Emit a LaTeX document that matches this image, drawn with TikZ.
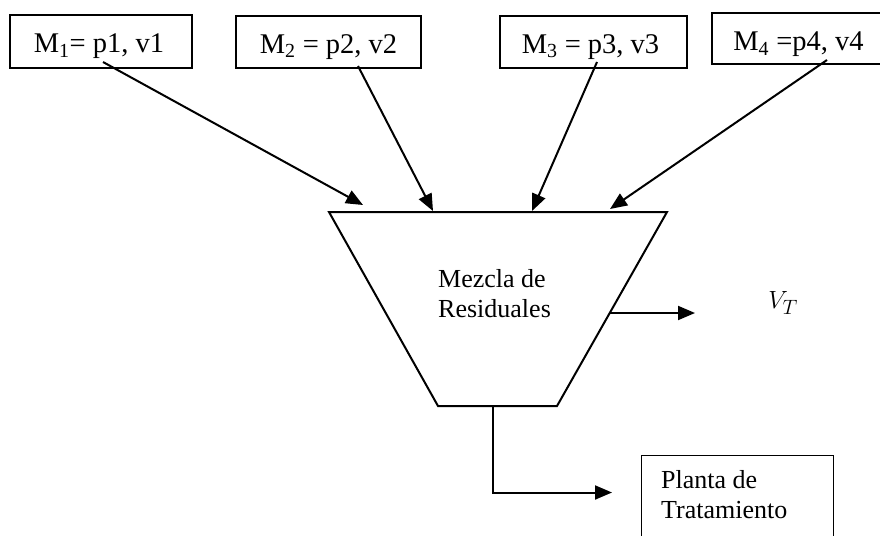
\documentclass[tikz,border=0pt]{standalone}
\usepackage{fontspec}
\setmainfont{Liberation Serif}
\usetikzlibrary{arrows.meta}
\tikzset{
  inbox/.style={draw, line width=1.3pt, inner sep=0pt, text height=22pt, text depth=0pt, font=\fontsize{28.5}{32}\selectfont},
  flow/.style={line width=2pt, -{Triangle[length=17pt,width=14pt]}},
  lbl/.style={inner sep=0pt, align=left, font=\fontsize{26}{30}\selectfont}
}
\begin{document}
\begin{tikzpicture}[x=1pt,y=-1pt]
\useasboundingbox (0,0) rectangle (880,535);
\clip (0,0) rectangle (880,535);
% input boxes
\node[inbox, minimum width=182pt, minimum height=53pt] (m1) at (101,41.5) {M\textsubscript{1}= p1, v1\hspace*{4pt}};
\node[inbox, minimum width=185pt, minimum height=52pt] (m2) at (328.5,42) {M\textsubscript{2} = p2, v2};
\node[inbox, minimum width=187pt, minimum height=52pt] (m3) at (593.5,42) {M\textsubscript{3} = p3, v3\hspace*{6pt}};
\node[inbox, minimum width=173pt, minimum height=51pt, text height=24pt] (m4) at (798.5,38.5) {M\textsubscript{4} =p4, v4};
% mixer trapezoid
\coordinate (tl) at (329,212);
\coordinate (tr) at (667,212);
\coordinate (br) at (557,406);
\coordinate (bl) at (438,406);
\draw[line width=2pt, line join=miter] (tl) -- (tr) -- (br) -- (bl) -- cycle;
\node[lbl, anchor=west] (mix) at (438,294) {Mezcla de\\Residuales};
% arrow start points inside the boxes
\coordinate (s1) at (103,62);
\coordinate (s2) at (358,66);
\coordinate (s3) at (597,62);
\coordinate (s4) at (827,60);
% arrow ends on top edge
\coordinate (e1) at (363,205);
\coordinate (e2) at (433,211);
\coordinate (e3) at (532,211);
\coordinate (e4) at (610,209);
\draw[flow] (s1) -- (e1);
\draw[flow] (s2) -- (e2);
\draw[flow] (s3) -- (e3);
\draw[flow] (s4) -- (e4);
% V_T outlet
\coordinate (vo) at (609.7,313);
\node[inner sep=0pt, font=\fontsize{29}{32}\selectfont] (vt) at (783,303) {$V_T$};
\coordinate (ve) at (695,313);
\draw[flow] (vo) -- (ve);
% bottom outlet to plant
\coordinate (bo) at (493,406);
\node[draw, line width=1.3pt, minimum width=192pt, minimum height=120pt, anchor=north west, inner sep=0pt] (pl) at (641,455) {};
\node[lbl, anchor=west] (pltxt) at (661,495) {Planta de\\Tratamiento};
\draw[flow] (bo) |- (612,492.5);
\end{tikzpicture}
\end{document}
